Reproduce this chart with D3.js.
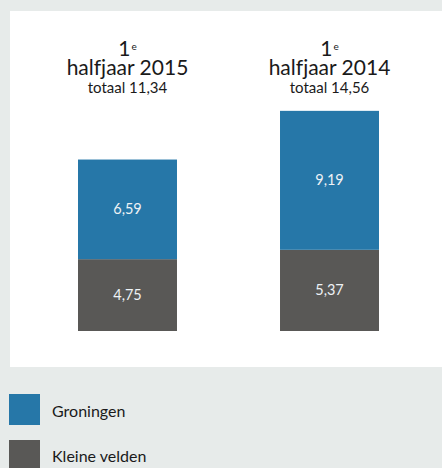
<!DOCTYPE html>
<html>
<head>
<meta charset="utf-8">
<script src="https://cdn.jsdelivr.net/npm/d3@7"></script>
<style>
  html, body { margin: 0; padding: 0; background: #e7ebea; }
  svg { display: block; font-family: Lato, sans-serif; font-variant-ligatures: none; }
</style>
</head>
<body>
<svg id="drawing_region"></svg>
<script>
// data
var periods = ['2015', '2014'];
var totals = ['11,34', '14,56'];
var groningen = [6.59, 9.19];
var kleineVelden = [4.75, 5.37];
var seriesNames = ['Groningen', 'Kleine velden'];
var seriesColors = ['#2677a8', '#595856'];

var width = 442;
var height = 468;

var svg = d3.select('#drawing_region')
    .attr('width', width)
    .attr('height', height);

// white panel
svg.append('rect')
    .attr('x', 10).attr('y', 11)
    .attr('width', width - 10).attr('height', 356)
    .attr('fill', '#ffffff');

const xscale = d3.scaleBand()
    .domain(periods)
    .range([78, 379])
    .paddingInner(0.51)
    .paddingOuter(0);

const yscale = d3.scaleLinear()
    .domain([0, 15])
    .range([331, 331 - 15 * 15.12]);

const fmt = v => d3.format('.2f')(v).replace('.', ',');

var rows = periods.map((p, i) => ({
    period: p, total: totals[i],
    parts: [
        {key: 0, y0: 0, y1: kleineVelden[i], v: kleineVelden[i]},
        {key: 1, y0: kleineVelden[i], y1: kleineVelden[i] + groningen[i], v: groningen[i]}
    ]
}));

var groups = svg.selectAll('g.bar').data(rows).enter()
    .append('g').attr('class', 'bar');

groups.selectAll('rect').data(d => d.parts.map(p => Object.assign({period: d.period}, p)))
    .enter().append('rect')
    .attr('x', d => xscale(d.period))
    .attr('width', xscale.bandwidth())
    .attr('y', d => yscale(d.y1))
    .attr('height', d => yscale(d.y0) - yscale(d.y1))
    .attr('fill', d => d.key === 1 ? seriesColors[0] : seriesColors[1]);

groups.selectAll('text.val').data(d => d.parts.map(p => Object.assign({period: d.period}, p)))
    .enter().append('text')
    .attr('class', 'val')
    .attr('x', d => xscale(d.period) + xscale.bandwidth() / 2)
    .attr('y', d => (yscale(d.y0) + yscale(d.y1)) / 2 + 5)
    .attr('text-anchor', 'middle')
    .attr('font-size', 14.5)
    .attr('fill', '#eef2f5')
    .text(d => fmt(d.v));

// titles
groups.each(function(d) {
    var cx = xscale(d.period) + xscale.bandwidth() / 2;
    var g = d3.select(this);
    var t1 = g.append('text')
        .attr('x', cx).attr('y', 55.5)
        .attr('text-anchor', 'middle')
        .attr('fill', '#1a1a1a');
    t1.append('tspan').attr('font-size', 21).text('1');
    t1.append('tspan').attr('font-size', 10).attr('dx', 1).attr('dy', -5.5).text('e');
    g.append('text')
        .attr('x', cx).attr('y', 75)
        .attr('text-anchor', 'middle')
        .attr('font-size', 21)
        .attr('fill', '#1a1a1a')
        .text('halfjaar ' + d.period);
    g.append('text')
        .attr('x', cx).attr('y', 93)
        .attr('text-anchor', 'middle')
        .attr('font-size', 15)
        .attr('fill', '#1a1a1a')
        .text('totaal ' + d.total);
});

// legend
var legend = svg.selectAll('g.legend').data(seriesNames).enter()
    .append('g').attr('class', 'legend')
    .attr('transform', (d, i) => `translate(9, ${394 + i * 46})`);

legend.append('rect')
    .attr('width', 31).attr('height', 31)
    .attr('fill', (d, i) => seriesColors[i]);

legend.append('text')
    .attr('x', 43).attr('y', (d, i) => 23 - i * 0.7)
    .attr('font-size', 16)
    .attr('fill', '#1a1a1a')
    .text(d => d);
</script>
</body>
</html>
